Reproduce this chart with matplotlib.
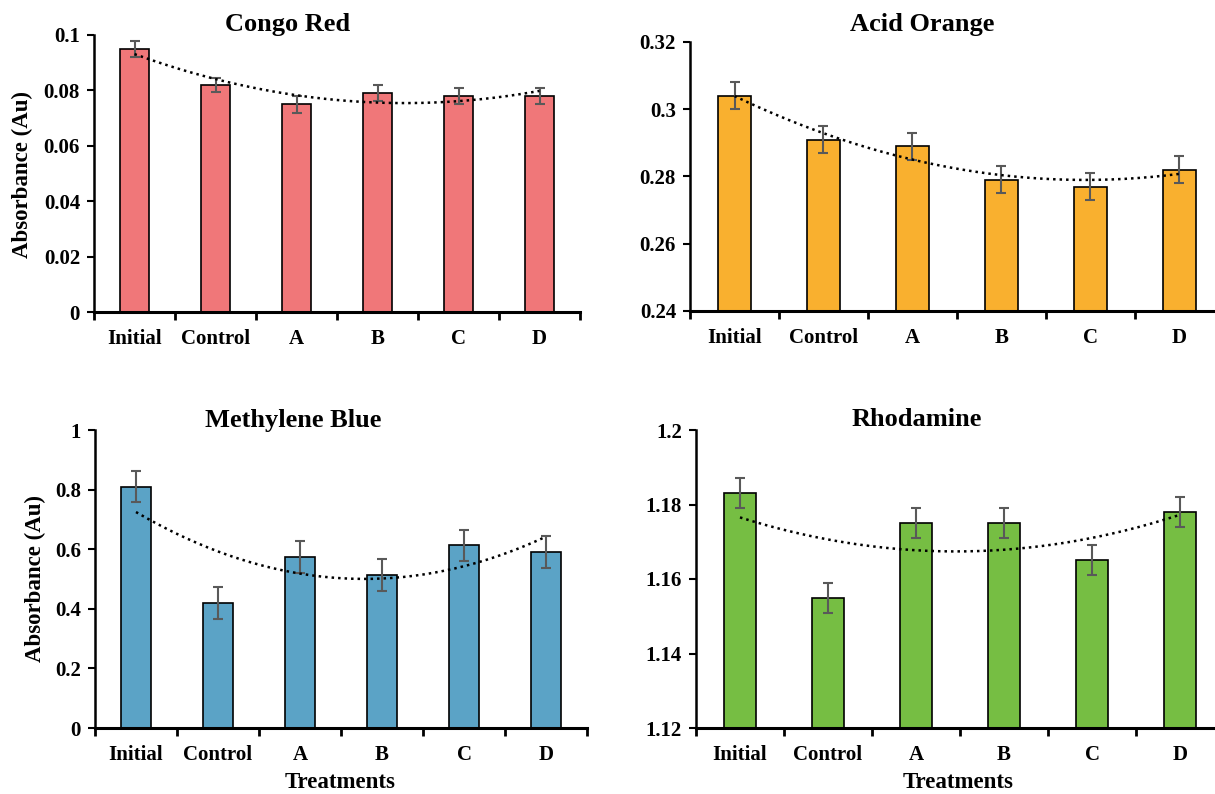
import numpy as np
import matplotlib
matplotlib.use('Agg')
import matplotlib.pyplot as plt
from matplotlib.ticker import FixedLocator

plt.rcParams['font.family'] = ['Liberation Serif', 'DejaVu Serif']
plt.rcParams['font.weight'] = 'bold'

# Data
treatments = ['Initial', 'Control', 'A', 'B', 'C', 'D']

congo_red = [0.095, 0.082, 0.075, 0.079, 0.078, 0.078]
congo_red_err = [0.003, 0.0025, 0.003, 0.003, 0.003, 0.003]

acid_orange = [0.304, 0.291, 0.289, 0.279, 0.277, 0.282]
acid_orange_err = [0.004, 0.004, 0.004, 0.004, 0.004, 0.004]

methylene_blue = [0.81, 0.42, 0.575, 0.513, 0.613, 0.591]
methylene_blue_err = [0.053, 0.053, 0.054, 0.053, 0.053, 0.053]

rhodamine = [1.183, 1.155, 1.175, 1.175, 1.165, 1.178]
rhodamine_err = [0.004, 0.004, 0.004, 0.004, 0.004, 0.004]

W, H = 1215, 794
fig = plt.figure(figsize=(W / 100, H / 100), dpi=100)


def px_axes(x0, y_top, x1, y_bot):
    return fig.add_axes([x0 / W, 1 - y_bot / H, (x1 - x0) / W, (y_bot - y_top) / H])


panels = [
    # values, errors, colour, ylim, yticks, axes box, title, title pos, ylabel pos, xlabel pos
    (congo_red, congo_red_err, '#F07779', (0, 0.1), [0, 0.02, 0.04, 0.06, 0.08, 0.1],
     (94, 35, 580, 312), 'Congo Red', (288, 24), (22, 174), None),
    (acid_orange, acid_orange_err, '#F9B02F', (0.24, 0.32), [0.24, 0.26, 0.28, 0.3, 0.32],
     (690, 42, 1224, 311), 'Acid Orange', (922, 24), None, None),
    (methylene_blue, methylene_blue_err, '#5BA3C6', (0, 1), [0, 0.2, 0.4, 0.6, 0.8, 1],
     (95, 430, 587, 728), 'Methylene Blue', (293, 420), (35, 578), (340, 783)),
    (rhodamine, rhodamine_err, '#76BE43', (1.12, 1.2), [1.12, 1.14, 1.16, 1.18, 1.2],
     (696, 430, 1224, 728), 'Rhodamine', (917, 420), None, (958, 783)),
]

x = np.arange(1, len(treatments) + 1)

for vals, errs, color, ylim, yticks, box, title, tpos, ylpos, xlpos in panels:
    ax = px_axes(*box)
    ax.bar(x, vals, width=0.37, color=color, edgecolor='black', linewidth=1.2, zorder=2)
    ax.errorbar(x, vals, yerr=errs, fmt='none', ecolor='#595959', elinewidth=1.5,
                capsize=3.5, capthick=1.5, zorder=3)

    # polynomial (order 2) trendline, as in the spreadsheet original
    coef = np.polyfit(x, vals, 2)
    xs = np.linspace(1, len(treatments), 200)
    ax.plot(xs, np.polyval(coef, xs), color='black', linestyle=(0, (1, 1.6)),
            linewidth=1.8, zorder=4)

    ax.set_xlim(0.5, len(treatments) + 0.5)
    ax.set_ylim(*ylim)
    ax.set_yticks(yticks)
    ax.set_yticklabels([f'{t:g}' for t in yticks], fontsize=15, fontweight='bold')
    ax.set_xticks(x)
    ax.set_xticklabels(treatments, fontsize=15, fontweight='bold')
    ax.tick_params(axis='x', which='major', length=0, pad=12)
    ax.xaxis.set_minor_locator(FixedLocator(np.arange(0.5, len(treatments) + 1, 1)))
    ax.tick_params(axis='x', which='minor', length=6, width=2, direction='out')
    ax.tick_params(axis='y', length=5, width=1.5, pad=5)

    for s in ['top', 'right']:
        ax.spines[s].set_visible(False)
    ax.spines['left'].set_linewidth(1.8)
    ax.spines['bottom'].set_linewidth(2.2)

    fig.text(tpos[0] / W, 1 - tpos[1] / H, title, ha='center', va='center',
             fontsize=19, fontweight='bold')
    if ylpos:
        fig.text(ylpos[0] / W, 1 - ylpos[1] / H, 'Absorbance (Au)', ha='center', va='center',
                 rotation=90, fontsize=16.5, fontweight='bold')
    if xlpos:
        fig.text(xlpos[0] / W, 1 - xlpos[1] / H, 'Treatments', ha='center', va='center',
                 fontsize=16.5, fontweight='bold')

fig.savefig('out.png', dpi=100)
